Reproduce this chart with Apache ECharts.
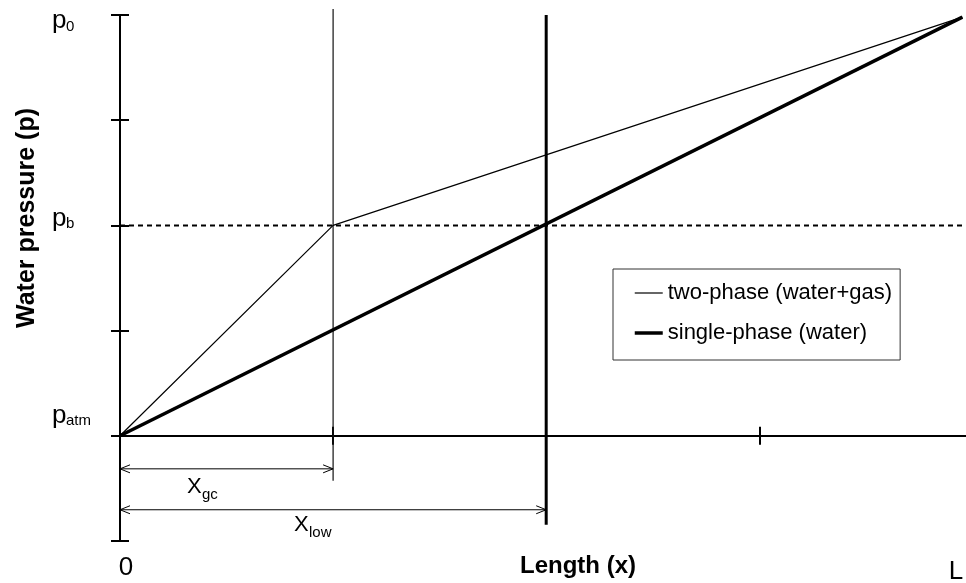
<!DOCTYPE html>
<html>
<head>
<meta charset="utf-8">
<script src="https://cdn.jsdelivr.net/npm/echarts@6/dist/echarts.min.js"></script>
<style>
html,body{margin:0;padding:0;background:#fff;}
#chart{width:966px;height:583px;}
</style>
</head>
<body>
<div id="chart"></div>
<script>
// ---- data ----
const xTickValues = [1, 2, 3];
const yTickValues = [-1, 0, 1, 2, 3, 4];
const twoPhase = [[0, 0], [1, 2], [3.953, 3.98]];
const singlePhase = [[0, 0], [3.953, 3.98]];
const pBubble = [[0, 2], [3.97, 2]];
const xgcLine = [[1, 4.057], [1, -0.428]];
const xlowLine = [[2, 4.0], [2, -0.846]];
const dimArrows = [[0, 1, -0.314], [0, 2, -0.703]];
const seriesNames = ['two-phase (water+gas)', 'single-phase (water)'];

const FONT = 'Liberation Sans, Arial, sans-serif';
const chart = echarts.init(document.getElementById('chart'));

function axisCommon(extra) {
  return Object.assign({
    type: 'value',
    axisLabel: { show: false },
    splitLine: { show: false }
  }, extra);
}

function txt(x, y, s, size, opts) {
  return Object.assign({
    type: 'text', x: x, y: y,
    style: Object.assign({
      text: s, fontSize: size, fontFamily: FONT, fill: '#000',
      align: 'left', verticalAlign: 'middle'
    }, (opts && opts.style) || {})
  }, (opts && opts.el) || {});
}

const option = {
  animation: false,
  backgroundColor: '#fff',
  grid: { left: 120, right: 0, top: 15, bottom: 42 },
  xAxis: [
    axisCommon({ position: 'bottom', min: 0, max: 3.97, interval: 1,
      axisLine: { onZero: true, lineStyle: { color: '#000', width: 2 } },
      axisTick: { show: true, inside: true, length: 9, customValues: xTickValues, lineStyle: { color: '#000', width: 2 } } }),
    axisCommon({ position: 'bottom', min: 0, max: 3.97, interval: 1,
      axisLine: { onZero: true, lineStyle: { color: '#000', width: 2 } },
      axisTick: { show: true, inside: false, length: 9, customValues: xTickValues, lineStyle: { color: '#000', width: 2 } } })
  ],
  yAxis: [
    axisCommon({ position: 'left', min: -1, max: 4, interval: 1,
      axisLine: { show: true, onZero: true, lineStyle: { color: '#000', width: 2 } },
      axisTick: { show: true, inside: true, length: 9, customValues: yTickValues, lineStyle: { color: '#000', width: 2 } } }),
    axisCommon({ position: 'left', min: -1, max: 4, interval: 1,
      axisLine: { show: true, onZero: true, lineStyle: { color: '#000', width: 2 } },
      axisTick: { show: true, inside: false, length: 9, customValues: yTickValues, lineStyle: { color: '#000', width: 2 } } })
  ],
  legend: {
    orient: 'vertical', left: 613, top: 269,
    padding: [11, 8, 14, 20],
    itemWidth: 28, itemHeight: 14, itemGap: 14,
    borderColor: '#333', borderWidth: 1,
    backgroundColor: '#fff',
    itemStyle: { opacity: 0 },
    textStyle: { fontSize: 22, fontFamily: FONT, color: '#000', lineHeight: 26 },
    data: [
      { name: seriesNames[0], lineStyle: { width: 1.2, color: '#000' } },
      { name: seriesNames[1], lineStyle: { width: 3.5, color: '#000' } }
    ],
    selectedMode: false
  },
  series: [
    { name: 'pb', type: 'line', data: pBubble, symbol: 'none', clip: false,
      lineStyle: { color: '#000', width: 2, type: [5, 4] }, z: 1 },
    { name: 'xgc', type: 'line', data: xgcLine, symbol: 'none', clip: false,
      lineStyle: { color: '#111', width: 1.2 }, z: 2 },
    { name: 'xlow', type: 'line', data: xlowLine, symbol: 'none', clip: false,
      lineStyle: { color: '#000', width: 3 }, z: 2 },
    { name: seriesNames[0], type: 'line', data: twoPhase, symbol: 'none', clip: false,
      lineStyle: { color: '#000', width: 1.2 }, itemStyle: { color: '#000' }, z: 3 },
    { name: seriesNames[1], type: 'line', data: singlePhase, symbol: 'none', clip: false,
      lineStyle: { color: '#000', width: 3.5 }, itemStyle: { color: '#000' }, z: 3 },
    { name: 'dims', type: 'custom', data: dimArrows, clip: false,
      encode: { x: [0, 1], y: 2 },
      renderItem: function (params, api) {
        const a = api.coord([api.value(0), api.value(2)]);
        const b = api.coord([api.value(1), api.value(2)]);
        const L = 10, W = 4;
        const st = { stroke: '#000', fill: null, lineWidth: 1 };
        return { type: 'group', children: [
          { type: 'line', shape: { x1: a[0], y1: a[1], x2: b[0], y2: b[1] }, style: st },
          { type: 'polyline', shape: { points: [[a[0] + L, a[1] - W], [a[0], a[1]], [a[0] + L, a[1] + W]] }, style: st },
          { type: 'polyline', shape: { points: [[b[0] - L, b[1] - W], [b[0], b[1]], [b[0] - L, b[1] + W]] }, style: st }
        ]};
      }, z: 2 }
  ],
  graphic: [
    // y-axis labels
    txt(52, 21, 'p', 26), txt(66, 27, '0', 15),
    txt(52, 219, 'p', 26), txt(66, 224, 'b', 15),
    txt(52, 416, 'p', 26), txt(66, 421, 'atm', 15),
    // x ends
    txt(126, 568, '0', 26, { style: { align: 'center' } }),
    txt(956, 572, 'L', 26, { style: { align: 'center' } }),
    // axis titles
    txt(578, 566, 'Length (x)', 24, { style: { align: 'center', fontWeight: 'bold' } }),
    txt(27, 218, 'Water pressure (p)', 25, { style: { align: 'center', fontWeight: 'bold' }, el: { rotation: Math.PI / 2 } }),
    // dimension labels
    txt(187, 487, 'X', 22), txt(202, 495, 'gc', 15),
    txt(294, 525, 'X', 22), txt(309, 533, 'low', 15)
  ]
};
chart.setOption(option);
</script>
</body>
</html>
